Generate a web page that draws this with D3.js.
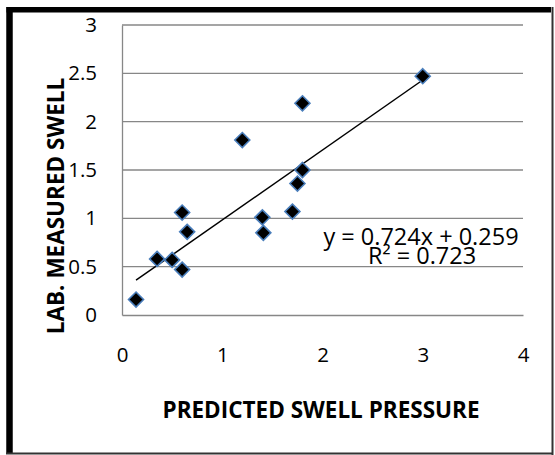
<!DOCTYPE html>
<html>
<head>
<meta charset="utf-8">
<script src="https://cdn.jsdelivr.net/npm/d3@7"></script>
<style>
  body { margin: 0; background: #fff; }
  svg { display: block; }
</style>
</head>
<body>
<svg id="chart" width="555" height="455"></svg>
<script>
var predicted = [0.14, 0.35, 0.5, 0.6, 0.65, 0.6, 1.2, 1.4, 1.41, 1.7, 1.75, 1.8, 1.8, 3.0];
var measured  = [0.16, 0.58, 0.57, 0.47, 0.86, 1.06, 1.81, 1.01, 0.85, 1.07, 1.36, 1.5, 2.19, 2.47];
var xTicks = [0, 1, 2, 3, 4];
var yTicks = [0, 0.5, 1, 1.5, 2, 2.5, 3];
var slope = 0.724, intercept = 0.259;
var trendLabel = "y = 0.724x + 0.259";
var r2Label = "R² = 0.723";
var xTitle = "PREDICTED SWELL PRESSURE";
var yTitle = "LAB. MEASURED SWELL";

var svg = d3.select("#chart");
var font = "'Open Sans', sans-serif";

// frame: heavy left/top, thin right/bottom
svg.append("line").attr("x1", 9.5).attr("y1", 7).attr("x2", 9.5).attr("y2", 454)
  .attr("stroke", "#000").attr("stroke-width", 6.5);
svg.append("line").attr("x1", 6.5).attr("y1", 9.8).attr("x2", 551).attr("y2", 9.8)
  .attr("stroke", "#000").attr("stroke-width", 5.5);
svg.append("line").attr("x1", 552.5).attr("y1", 7).attr("x2", 552.5).attr("y2", 455)
  .attr("stroke", "#333").attr("stroke-width", 2);
svg.append("line").attr("x1", 6).attr("y1", 453.5).attr("x2", 553).attr("y2", 453.5)
  .attr("stroke", "#333").attr("stroke-width", 2);

var x = d3.scaleLinear().domain([0, 4]).range([122, 523]);
var y = d3.scaleLinear().domain([0, 3]).range([315, 25]);

// gridlines
svg.append("g").selectAll("line").data(yTicks.slice(1)).join("line")
  .attr("x1", x(0)).attr("x2", x(4))
  .attr("y1", d => y(d)).attr("y2", d => y(d))
  .attr("stroke", "#878787").attr("stroke-width", 1.3);

// axes
var yAxis = svg.append("g")
  .attr("transform", "translate(" + x(0) + ",0)")
  .call(d3.axisLeft(y).tickValues(yTicks).tickSize(0).tickPadding(25).tickFormat(d3.format("")));
var xAxis = svg.append("g")
  .attr("transform", "translate(0," + y(0) + ")")
  .call(d3.axisBottom(x).tickValues(xTicks).tickSize(0).tickPadding(32).tickFormat(d3.format("")));
[xAxis, yAxis].forEach(function(a) {
  a.select(".domain").attr("stroke", "#878787").attr("stroke-width", 1.3);
  a.selectAll("text").attr("font-family", font).attr("font-size", 20.5).attr("fill", "#000");
});

// trendline
var xr = d3.extent(predicted);
svg.append("line")
  .attr("x1", x(xr[0])).attr("y1", y(slope * xr[0] + intercept))
  .attr("x2", x(xr[1])).attr("y2", y(slope * xr[1] + intercept))
  .attr("stroke", "#000").attr("stroke-width", 1.5);

// points
var pts = predicted.map((p, i) => ({ x: p, y: measured[i] }));
svg.append("g").selectAll("path").data(pts).join("path")
  .attr("transform", d => "translate(" + x(d.x) + "," + y(d.y) + ")")
  .attr("d", "M0,-7.5L7.5,0L0,7.5L-7.5,0Z")
  .attr("fill", "#000").attr("stroke", "#4a7ebb").attr("stroke-width", 1.6);

// equation
svg.append("text").attr("x", 421).attr("y", 245)
  .attr("text-anchor", "middle").attr("font-family", font).attr("font-size", 23.5)
  .text(trendLabel);
svg.append("text").attr("x", 422).attr("y", 264)
  .attr("text-anchor", "middle").attr("font-family", font).attr("font-size", 23.5)
  .text(r2Label);

// axis titles
svg.append("text").attr("x", 321).attr("y", 418)
  .attr("text-anchor", "middle").attr("font-family", font).attr("font-weight", "bold")
  .attr("font-size", 22.5).text(xTitle);
svg.append("text")
  .attr("transform", "translate(64,206) rotate(-90)")
  .attr("text-anchor", "middle").attr("font-family", font).attr("font-weight", "bold")
  .attr("font-size", 22.5).text(yTitle);
</script>
</body>
</html>
